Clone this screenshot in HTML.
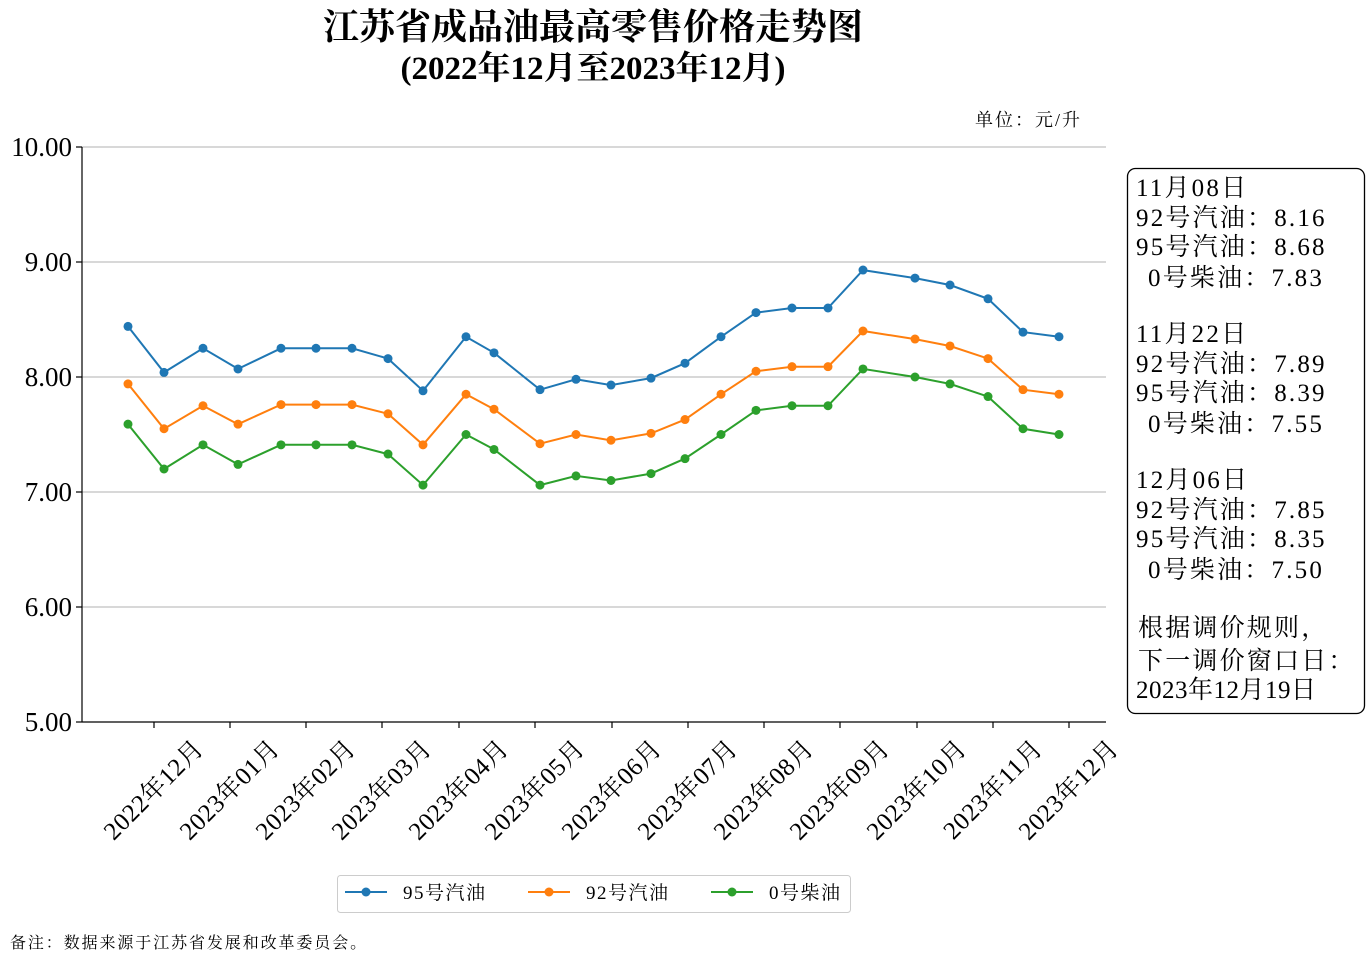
<!DOCTYPE html>
<html><head><meta charset="utf-8"><style>
body{margin:0;background:#fff;}
svg{display:block;font-family:"Liberation Serif","Noto Serif CJK SC",serif;}
</style></head><body>
<svg id="s" width="1367" height="973" xmlns="http://www.w3.org/2000/svg">
<text x="593" y="39" text-anchor="middle" font-size="36" font-weight="bold">江苏省成品油最高零售价格走势图</text>
<text x="593" y="79" text-anchor="middle" font-size="33" font-weight="bold">(2022年12月至2023年12月)</text>
<text x="1082" y="126" text-anchor="end" font-size="18" letter-spacing="2">单位：元/升</text>
<g stroke="#b0b0b0" stroke-width="1">
<line x1="82" y1="147" x2="1106" y2="147"/><line x1="82" y1="262" x2="1106" y2="262"/>
<line x1="82" y1="377" x2="1106" y2="377"/><line x1="82" y1="492" x2="1106" y2="492"/>
<line x1="82" y1="607" x2="1106" y2="607"/>
</g>
<g stroke="#000" stroke-width="1.2">
<line x1="82" y1="147" x2="82" y2="722"/><line x1="82" y1="722" x2="1106" y2="722"/>
<line x1="76" y1="147" x2="82" y2="147"/><line x1="76" y1="262" x2="82" y2="262"/><line x1="76" y1="377" x2="82" y2="377"/><line x1="76" y1="492" x2="82" y2="492"/><line x1="76" y1="607" x2="82" y2="607"/><line x1="76" y1="722" x2="82" y2="722"/>
</g>
<g id="xt" stroke="#000" stroke-width="1.2"></g>
<g font-size="27" text-anchor="end">
<text x="72" y="156">10.00</text><text x="72" y="271">9.00</text><text x="72" y="386">8.00</text><text x="72" y="501">7.00</text><text x="72" y="616">6.00</text><text x="72" y="731">5.00</text>
</g>
<g font-size="25" text-anchor="end" letter-spacing="0.5">
<text transform="translate(205,750) rotate(-45)">2022年12月</text>
<text transform="translate(281,750) rotate(-45)">2023年01月</text>
<text transform="translate(357,750) rotate(-45)">2023年02月</text>
<text transform="translate(433,750) rotate(-45)">2023年03月</text>
<text transform="translate(510,750) rotate(-45)">2023年04月</text>
<text transform="translate(586,750) rotate(-45)">2023年05月</text>
<text transform="translate(663,750) rotate(-45)">2023年06月</text>
<text transform="translate(739,750) rotate(-45)">2023年07月</text>
<text transform="translate(815,750) rotate(-45)">2023年08月</text>
<text transform="translate(891,750) rotate(-45)">2023年09月</text>
<text transform="translate(968,750) rotate(-45)">2023年10月</text>
<text transform="translate(1044,750) rotate(-45)">2023年11月</text>
<text transform="translate(1120,750) rotate(-45)">2023年12月</text>
</g>
<g id="series"></g>
<rect x="1127.5" y="168.5" width="237" height="545" rx="8" fill="#fff" stroke="#000" stroke-width="1.3"/>
<g font-size="25" letter-spacing="2.2">
<text x="1136" y="196">11月08日</text>
<text x="1136" y="226">92号汽油：8.16</text>
<text x="1136" y="255">95号汽油：8.68</text>
<text x="1148" y="286">0号柴油：7.83</text>
<text x="1136" y="342">11月22日</text>
<text x="1136" y="372">92号汽油：7.89</text>
<text x="1136" y="401">95号汽油：8.39</text>
<text x="1148" y="432">0号柴油：7.55</text>
<text x="1136" y="488">12月06日</text>
<text x="1136" y="518">92号汽油：7.85</text>
<text x="1136" y="547">95号汽油：8.35</text>
<text x="1148" y="578">0号柴油：7.50</text>
<text x="1138" y="636">根据调价规则，</text>
<text x="1138" y="669">下一调价窗口日：</text>
<text x="1136" y="698" letter-spacing="0.5">2023年12月19日</text>
</g>
<rect x="337.5" y="875.5" width="513" height="37" rx="3" fill="#fff" stroke="#ccc"/>
<g font-size="19" letter-spacing="1.5">
<line x1="345" y1="892" x2="387" y2="892" stroke="#1f77b4" stroke-width="2"/><circle cx="366" cy="892" r="4.5" fill="#1f77b4"/><text x="403" y="899">95号汽油</text>
<line x1="528" y1="892" x2="570" y2="892" stroke="#ff7f0e" stroke-width="2"/><circle cx="549" cy="892" r="4.5" fill="#ff7f0e"/><text x="586" y="899">92号汽油</text>
<line x1="711" y1="892" x2="753" y2="892" stroke="#2ca02c" stroke-width="2"/><circle cx="732" cy="892" r="4.5" fill="#2ca02c"/><text x="769" y="899">0号柴油</text>
</g>
<text x="10" y="948" font-size="16" letter-spacing="1.9">备注：数据来源于江苏省发展和改革委员会。</text>
</svg>
<script>
var ns="http://www.w3.org/2000/svg";
var xt=document.getElementById('xt');
[154,230,306,382,459,535,612,688,764,840,917,993,1069].forEach(function(x){var l=document.createElementNS(ns,'line');l.setAttribute('x1',x);l.setAttribute('x2',x);l.setAttribute('y1',722);l.setAttribute('y2',728);xt.appendChild(l);});
var X=[128,164,203,238,281,316,352,388,423,466,494,540,576,611,651,685,721,756,792,828,863,915,950,988,1023,1059];
var D=[["#1f77b4",[8.44,8.04,8.25,8.07,8.25,8.25,8.25,8.16,7.88,8.35,8.21,7.89,7.98,7.93,7.99,8.12,8.35,8.56,8.60,8.60,8.93,8.86,8.80,8.68,8.39,8.35]],
["#ff7f0e",[7.94,7.55,7.75,7.59,7.76,7.76,7.76,7.68,7.41,7.85,7.72,7.42,7.50,7.45,7.51,7.63,7.85,8.05,8.09,8.09,8.40,8.33,8.27,8.16,7.89,7.85]],
["#2ca02c",[7.59,7.20,7.41,7.24,7.41,7.41,7.41,7.33,7.06,7.50,7.37,7.06,7.14,7.10,7.16,7.29,7.50,7.71,7.75,7.75,8.07,8.00,7.94,7.83,7.55,7.50]]];
var g=document.getElementById('series');
D.forEach(function(s){var pts=s[1].map(function(v,i){return X[i]+","+(722-(v-5)*115).toFixed(1);});
var p=document.createElementNS(ns,'polyline');p.setAttribute('points',pts.join(' '));p.setAttribute('fill','none');p.setAttribute('stroke',s[0]);p.setAttribute('stroke-width','2');g.appendChild(p);
s[1].forEach(function(v,i){var c=document.createElementNS(ns,'circle');c.setAttribute('cx',X[i]);c.setAttribute('cy',722-(v-5)*115);c.setAttribute('r',4.5);c.setAttribute('fill',s[0]);g.appendChild(c);});});
</script>
</body></html>
